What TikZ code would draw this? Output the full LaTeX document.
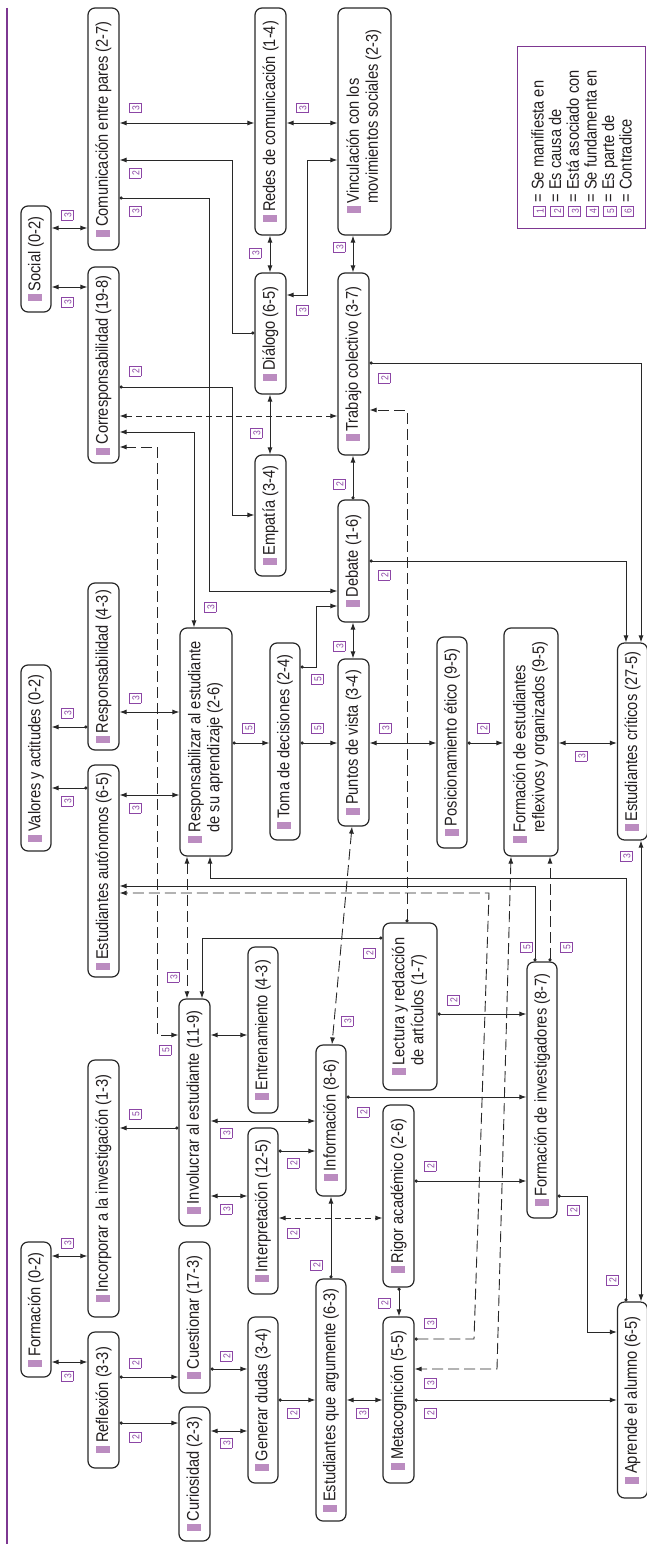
\documentclass[tikz,border=0pt]{standalone}
\usepackage{fontspec}
\setmainfont{Liberation Sans}[FakeStretch=0.86]
\usepackage{graphicx}
\usetikzlibrary{arrows.meta}
\definecolor{bord}{RGB}{125,55,145}
\definecolor{lblc}{RGB}{140,70,165}
\definecolor{mkc}{RGB}{187,140,192}
\definecolor{ln}{RGB}{40,40,40}
\definecolor{txt}{RGB}{35,31,32}
\newcommand{\mk}{{\color{mkc}\rule[-2pt]{7pt}{14pt}}}
\newcommand{\nt}[1]{\rotatebox{90}{\mk\hspace{3pt}#1}}
\newcommand{\ntt}[2]{\rotatebox{90}{\mk\hspace{3pt}\begin{tabular}[t]{@{}l@{}}#1\\#2\end{tabular}}}
\newcommand{\dg}[1]{{\setlength{\fboxsep}{0pt}\setlength{\fboxrule}{0.7pt}\fcolorbox{lblc}{white}{\makebox[9pt]{\rule[-1.5pt]{0pt}{11.5pt}\fontsize{10}{10}\selectfont\color{lblc}#1}}}}
\newcommand{\lbn}[3]{\node[lbl] (#1) at (#2) {\rotatebox{90}{\dg{#3}}};}
\begin{document}
\begin{tikzpicture}[x=1pt,y=-1pt,>={Latex[length=7pt,width=5pt]},
 box/.style={draw=ln,line width=1.2pt,rounded corners=7pt,inner sep=0pt,text=txt,font=\fontsize{17}{19}\selectfont},
 con/.style={draw=ln,line width=0.9pt},
 dt/.style={{Circle[length=3.2pt]}->},
 bi/.style={<->},
 dsh/.style={dash pattern=on 6pt off 4pt},
 dshl/.style={dash pattern=on 11pt off 5pt},
 lbl/.style={inner sep=0pt}]
\useasboundingbox (0,0) rectangle (646,1544);
\fill[white] (0,0) rectangle (646,1544);
\draw[draw=bord,line width=1.3pt] (7,8) -- (7,1544);
% nodes
\node[box,minimum width=30pt,minimum height=135pt] (form) at (36,1309.5) {\nt{Formación (0-2)}};
\node[box,minimum width=30pt,minimum height=186pt] (valores) at (36,758) {\nt{Valores y actitudes (0-2)}};
\node[box,minimum width=30pt,minimum height=106pt] (social) at (36,259) {\nt{Social (0-2)}};
\node[box,minimum width=31pt,minimum height=257pt] (incorp) at (103.5,1188.5) {\nt{Incorporar a la investigación (1-3)}};
\node[box,minimum width=31pt,minimum height=136pt] (reflex) at (103.5,1400) {\nt{Reflexión (3-3)}};
\node[box,minimum width=31pt,minimum height=212pt] (autonomos) at (103.5,871) {\nt{Estudiantes autónomos (6-5)}};
\node[box,minimum width=31pt,minimum height=167pt] (respons) at (103.5,666.5) {\nt{Responsabilidad (4-3)}};
\node[box,minimum width=31pt,minimum height=196pt] (corresp) at (103.5,365) {\nt{Corresponsabilidad (19-8)}};
\node[box,minimum width=31pt,minimum height=242pt] (comun) at (103.5,129) {\nt{Comunicación entre pares (2-7)}};
\node[box,minimum width=31pt,minimum height=134pt] (curios) at (194.5,1474) {\nt{Curiosidad (2-3)}};
\node[box,minimum width=31pt,minimum height=151pt] (cuest) at (194.5,1317.5) {\nt{Cuestionar (17-3)}};
\node[box,minimum width=31pt,minimum height=227pt] (involu) at (194.5,1112.5) {\nt{Involucrar al estudiante (11-9)}};
\node[box,minimum width=52pt,minimum height=228pt] (resp2) at (206,742) {\ntt{Responsabilizar al estudiante}{de su aprendizaje (2-6)}};
\node[box,minimum width=30pt,minimum height=166pt] (genera) at (263,1400) {\nt{Generar dudas (3-4)}};
\node[box,minimum width=30pt,minimum height=166pt] (interp) at (263,1211) {\nt{Interpretación (12-5)}};
\node[box,minimum width=30pt,minimum height=166pt] (entren) at (263,1030) {\nt{Entrenamiento (4-3)}};
\node[box,minimum width=30pt,minimum height=197pt] (toma) at (285,741.5) {\nt{Toma de decisiones (2-4)}};
\node[box,minimum width=31pt,minimum height=121pt] (empat) at (270.5,515.5) {\nt{Empatía (3-4)}};
\node[box,minimum width=31pt,minimum height=121pt] (dialogo) at (270.5,333.5) {\nt{Diálogo (6-5)}};
\node[box,minimum width=31pt,minimum height=227pt] (redes) at (270.5,121.5) {\nt{Redes de comunicación (1-4)}};
\node[box,minimum width=30pt,minimum height=242pt] (estarg) at (331,1400) {\nt{Estudiantes que argumente (6-3)}};
\node[box,minimum width=30pt,minimum height=151pt] (info) at (331,1120.5) {\nt{Información (8-6)}};
\node[box,minimum width=31pt,minimum height=167pt] (puntos) at (353.5,742.5) {\nt{Puntos de vista (3-4)}};
\node[box,minimum width=31pt,minimum height=122pt] (debate) at (353.5,561) {\nt{Debate (1-6)}};
\node[box,minimum width=31pt,minimum height=182pt] (trabajo) at (353.5,364) {\nt{Trabajo colectivo (3-7)}};
\node[box,minimum width=53pt,minimum height=227pt] (vincul) at (364.5,121.5) {\ntt{Vinculación con los}{movimientos sociales (2-3)}};
\node[box,minimum width=54pt,minimum height=167pt] (lectura) at (410,1006.5) {\ntt{Lectura y redacción}{de artículos (1-7)}};
\node[box,minimum width=31pt,minimum height=182pt] (rigor) at (398.5,1196) {\nt{Rigor académico (2-6)}};
\node[box,minimum width=31pt,minimum height=166pt] (meta) at (398.5,1400) {\nt{Metacognición (5-5)}};
\node[box,minimum width=30pt,minimum height=211pt] (posic) at (452,742.5) {\nt{Posicionamiento ético (9-5)}};
\node[box,minimum width=54pt,minimum height=228pt] (formest) at (531,742) {\ntt{Formación de estudiantes}{reflexivos y organizados (9-5)}};
\node[box,minimum width=30pt,minimum height=256pt] (forminv) at (542,1090) {\nt{Formación de investigadores (8-7)}};
\node[box,minimum width=30pt,minimum height=197pt] (criticos) at (632.5,741.5) {\nt{Estudiantes críticos (27-5)}};
\node[box,minimum width=30pt,minimum height=196pt] (aprende) at (632.5,1400) {\nt{Aprende el alumno (6-5)}};
% legend
\draw[draw=bord,line width=1pt] (517,47) rectangle (645.5,228);
\node[rotate=90,anchor=north west,inner sep=0pt,text=txt,font=\fontsize{17}{17.6}\selectfont] (legend) at (531,217) {\begin{tabular}{@{}l@{}}\dg{1} = Se manifiesta en\\\dg{2} = Es causa de\\\dg{3} = Está asociado con\\\dg{4} = Se fundamenta en\\\dg{5} = Es parte de\\\dg{6} = Contradice\end{tabular}};
% bidirectional solid
\draw[con,bi] (form.east |- 0,1256) -- (incorp.west |- 0,1256);
\draw[con,bi] (form.east |- 0,1362) -- (reflex.west |- 0,1362);
\draw[con,dt] (respons.west |- 0,727) -- (valores.east |- 0,727);
\draw[con,dt] (autonomos.west |- 0,788) -- (valores.east |- 0,788);
\draw[con,bi] (social.east |- 0,228) -- (comun.west |- 0,228);
\draw[con,bi] (social.east |- 0,287) -- (corresp.west |- 0,287);
\draw[con,bi] (respons.east |- 0,712) -- (resp2.west |- 0,712);
\draw[con,bi] (autonomos.east |- 0,795) -- (resp2.west |- 0,795);
\draw[con,bi] (comun.east |- 0,123) -- (redes.west |- 0,123);
\draw[con,bi] (redes.east |- 0,123) -- (vincul.west |- 0,123);
\draw[con,bi] (270,0 |- redes.south) -- (270,0 |- dialogo.north);
\draw[con,bi] (270,0 |- dialogo.south) -- (270,0 |- empat.north);
\draw[con,bi] (353,0 |- vincul.south) -- (353,0 |- trabajo.north);
\draw[con,bi] (dialogo.east |- 0,295) -- (307,295) -- (307,160) -- (vincul.west |- 0,160);
\draw[con,bi] (353,0 |- debate.south) -- (353,0 |- puntos.north);
\draw[con,bi] (puntos.east |- 0,743) -- (posic.west |- 0,743);
\draw[con,bi] (formest.east |- 0,743) -- (criticos.west |- 0,743);
\draw[con,bi] (641,0 |- criticos.south) -- (641,0 |- aprende.north);
\draw[con,bi] (involu.east |- 0,1121) -- (info.west |- 0,1121);
\draw[con,bi] (involu.east |- 0,1196) -- (interp.west |- 0,1196);
\draw[con,bi] (curios.east |- 0,1431) -- (genera.west |- 0,1431);
\draw[con,bi] (estarg.east |- 0,1400) -- (meta.west |- 0,1400);
\draw[con,bi] (involu.east |- 0,1035) -- (entren.west |- 0,1035);
\draw[con,bi] (corresp.east |- 0,432) -- (194,432) -- (194,0 |- resp2.north);
% directed solid
\draw[con,dt] (reflex.east |- 0,1377) -- (cuest.west |- 0,1377);
\draw[con,dt] (reflex.east |- 0,1423) -- (curios.west |- 0,1423);
\draw[con,dt] (involu.west |- 0,1128) -- (incorp.east |- 0,1128);
\draw[con,dt] (cuest.east |- 0,1369) -- (genera.west |- 0,1369);
\draw[con,dt] (interp.east |- 0,1151) -- (info.west |- 0,1151);
\draw[con,dt] (genera.east |- 0,1400) -- (estarg.west |- 0,1400);
\draw[con,dt] (331,0 |- estarg.north) -- (331,0 |- info.south);
\draw[con,dt] (rigor.east |- 0,1181) -- (forminv.west |- 0,1181);
\draw[con,dt] (399,0 |- rigor.south) -- (399,0 |- meta.north);
\draw[con,dt] (meta.east |- 0,1400) -- (aprende.west |- 0,1400);
\draw[con,dt] (forminv.east |- 0,1196) -- (587,1196) -- (587,1332) -- (aprende.west |- 0,1332);
\draw[con,dt] (626,0 |- aprende.north) -- (626,878) -- (210,878) -- (210,0 |- resp2.south);
\draw[con,dt] (535,0 |- forminv.north) -- (535,886) -- (autonomos.east |- 0,886);
\draw[con,dt] (info.east |- 0,1097) -- (forminv.west |- 0,1097);
\draw[con,dt] (lectura.east |- 0,1014) -- (forminv.west |- 0,1014);
\draw[con,dt] (lectura.west |- 0,938) -- (202,938) -- (202,0 |- involu.north);
\draw[con,dt] (resp2.east |- 0,743) -- (toma.west |- 0,743);
\draw[con,dt] (toma.east |- 0,743) -- (puntos.west |- 0,743);
\draw[con,dt] (toma.east |- 0,667) -- (316,667) -- (316,606) -- (debate.west |- 0,606);
\draw[con,dt] (comun.east |- 0,198) -- (209,198) -- (209,591) -- (debate.west |- 0,591);
\draw[con,dt] (dialogo.west |- 0,333) -- (232,333) -- (232,160) -- (comun.east |- 0,160);
\draw[con,dt] (corresp.east |- 0,387) -- (232,387) -- (232,515) -- (empat.west |- 0,515);
\draw[con,dt] (353,0 |- debate.north) -- (353,0 |- trabajo.south);
\draw[con,dt] (trabajo.east |- 0,363) -- (641,363) -- (641,0 |- criticos.north);
\draw[con,dt] (debate.east |- 0,561) -- (626,561) -- (626,0 |- criticos.north);
\draw[con,dt] (posic.east |- 0,743) -- (formest.west |- 0,743);
% dashed
\draw[con,dsh,bi] (interp.east |- 0,1218) -- (rigor.west |- 0,1218);
\draw[con,dshl,bi] (352,0 |- puntos.south) -- (332,0 |- info.north);
\draw[con,dshl,dt] (407,0 |- lectura.north) -- (407,410) -- (trabajo.east |- 0,410);
\draw[con,dsh,bi] (corresp.east |- 0,416) -- (trabajo.west |- 0,416);
\draw[con,dshl,bi] (involu.west |- 0,1035) -- (157,1035) -- (157,447) -- (corresp.east |- 0,447);
\draw[con,dshl,bi] (187,0 |- resp2.south) -- (187,0 |- involu.north);
\draw[con,dshl,dt] (meta.east |- 0,1339) -- (474,1339) -- (489,893) -- (autonomos.east |- 0,893);
\draw[con,dshl,bi] (511,0 |- formest.south) -- (497,1369) -- (meta.east |- 0,1369);
\draw[con,dshl,dt] (550,0 |- forminv.north) -- (550,0 |- formest.south);
% labels
\lbn{l1}{67,1243}{3}
\lbn{l2}{67,1376}{3}
\lbn{l3}{67,713}{3}
\lbn{l4}{67,801}{3}
\lbn{l5}{67,215}{3}
\lbn{l6}{67,302}{3}
\lbn{l7}{135,698}{3}
\lbn{l8}{135,808}{3}
\lbn{l9}{135,108}{3}
\lbn{l10}{302,108}{3}
\lbn{l11}{255,253}{3}
\lbn{l12}{256,433}{3}
\lbn{l13}{339,247}{3}
\lbn{l14}{302,310}{3}
\lbn{l15}{339,646}{3}
\lbn{l16}{385,728}{3}
\lbn{l17}{581,756}{3}
\lbn{l18}{626,856}{3}
\lbn{l19}{226,1133}{3}
\lbn{l20}{226,1209}{3}
\lbn{l21}{226,1443}{3}
\lbn{l22}{362,1413}{3}
\lbn{l23}{210,607}{3}
\lbn{l24}{135,1363}{2}
\lbn{l25}{135,1437}{2}
\lbn{l26}{135,1114}{5}
\lbn{l27}{226,1356}{2}
\lbn{l28}{293,1163}{2}
\lbn{l29}{293,1413}{2}
\lbn{l30}{316,1265}{2}
\lbn{l31}{430,1166}{2}
\lbn{l32}{384,1303}{2}
\lbn{l33}{430,1413}{2}
\lbn{l34}{573,1210}{2}
\lbn{l35}{612,1280}{2}
\lbn{l36}{526,947}{5}
\lbn{l37}{363,1112}{2}
\lbn{l38}{453,1000}{2}
\lbn{l39}{369,953}{2}
\lbn{l40}{248,728}{5}
\lbn{l41}{317,728}{5}
\lbn{l42}{317,679}{5}
\lbn{l43}{135,211}{3}
\lbn{l44}{135,173}{2}
\lbn{l45}{135,371}{2}
\lbn{l46}{339,484}{2}
\lbn{l47}{384,378}{2}
\lbn{l48}{384,575}{2}
\lbn{l49}{483,728}{2}
\lbn{l50}{293,1233}{2}
\lbn{l51}{347,1021}{3}
\lbn{l52}{165,1050}{5}
\lbn{l53}{173,977}{3}
\lbn{l54}{430,1323}{3}
\lbn{l55}{430,1383}{3}
\lbn{l56}{566,947}{5}
\end{tikzpicture}
\end{document}
